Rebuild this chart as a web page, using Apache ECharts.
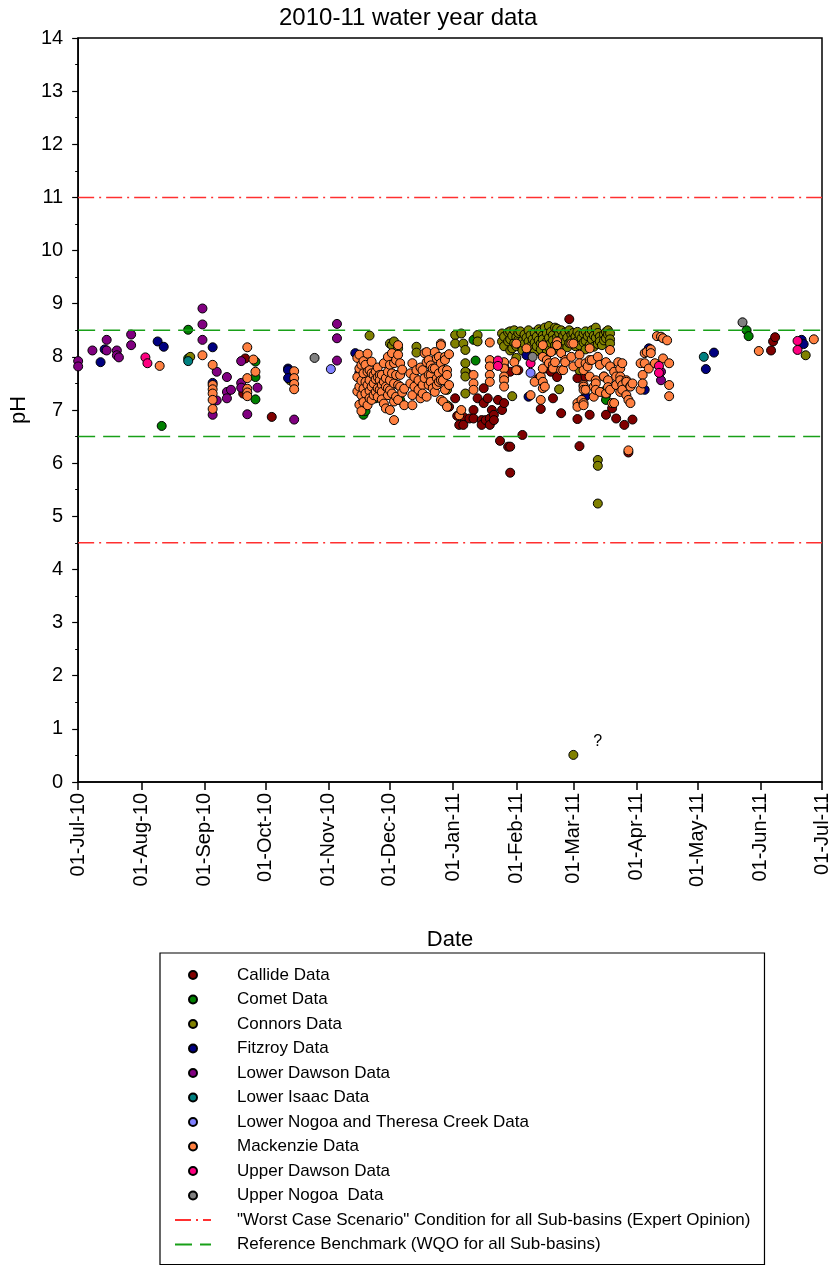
<!DOCTYPE html>
<html>
<head>
<meta charset="utf-8">
<script src="https://cdn.jsdelivr.net/npm/echarts@6/dist/echarts.min.js"></script>
<style>
  html, body { margin: 0; padding: 0; background: #fff; }
  #chart { width: 832px; height: 1266px; }
</style>
</head>
<body>
<div id="chart"></div>
<script>
// pH samples by sub-basin, 2010-11 water year: [sample date, pH]
const callide = [
  ['2010-09-20',7.31],['2010-09-21',7.97],['2010-10-04',6.87],
  ['2010-12-30',7.06],['2011-01-02',7.22],['2011-01-03',6.89],['2011-01-04',6.72],['2011-01-06',6.87],['2011-01-06',6.72],
  ['2011-01-08',7.69],['2011-01-09',6.84],['2011-01-11',7.00],['2011-01-11',6.84],['2011-01-13',7.22],['2011-01-15',6.81],
  ['2011-01-15',6.72],['2011-01-16',7.41],['2011-01-16',7.13],['2011-01-17',6.81],['2011-01-18',7.22],['2011-01-19',6.84],
  ['2011-01-19',6.72],['2011-01-20',7.00],['2011-01-21',6.91],['2011-01-21',6.81],['2011-01-23',7.19],['2011-01-24',6.42],
  ['2011-01-25',7.00],['2011-01-26',7.13],['2011-01-28',6.31],['2011-01-29',6.31],['2011-01-29',5.82],['2011-01-29',7.72],
  ['2011-02-02',7.75],['2011-02-04',6.53],['2011-02-12',7.60],['2011-02-13',7.02],['2011-02-15',7.78],['2011-02-18',7.72],
  ['2011-02-19',7.22],['2011-02-21',7.62],['2011-02-23',6.94],['2011-02-27',8.71],['2011-03-03',7.60],['2011-03-03',6.83],
  ['2011-03-04',6.32],['2011-03-07',7.62],['2011-03-09',6.91],['2011-03-17',6.91],['2011-03-20',7.03],['2011-03-22',6.84],
  ['2011-03-26',6.72],['2011-03-28',6.20],['2011-03-30',6.82],
  ['2011-06-06',8.12],['2011-06-07',8.29],['2011-06-08',8.37]
];
const comet = [
  ['2010-08-11',6.70],['2010-08-24',8.51],['2010-08-24',7.97],['2010-09-26',7.91],['2010-09-26',7.62],['2010-09-26',7.20],
  ['2010-11-17',7.10],['2010-11-18',6.91],['2010-11-18',7.03],['2010-11-18',7.19],['2010-11-19',6.98],['2010-11-24',7.22],
  ['2010-11-29',7.53],['2010-12-06',7.19],
  ['2011-01-11',8.32],['2011-01-12',7.93],['2011-02-08',8.25],
  ['2011-03-16',7.35],['2011-03-17',7.28],['2011-03-17',7.19],
  ['2011-05-25',8.50],['2011-05-26',8.39]
];
const connors = [
  ['2010-08-25',8.00],['2010-10-13',7.56],['2010-11-21',8.40],['2010-12-01',8.25],['2010-12-02',8.22],['2010-12-03',8.29],
  ['2010-12-05',8.16],['2010-12-14',8.19],['2010-12-14',8.08],['2010-12-29',7.09],['2010-12-29',7.38],
  ['2011-01-02',8.41],['2011-01-02',8.25],['2011-01-05',8.44],['2011-01-06',8.25],['2011-01-07',8.13],['2011-01-07',7.88],
  ['2011-01-07',7.72],['2011-01-07',7.63],['2011-01-07',7.31],['2011-01-13',8.41],['2011-01-13',8.29],['2011-01-25',8.44],
  ['2011-01-25',8.29],['2011-01-30',7.26],['2011-02-22',7.39],
  ['2011-01-26',8.38],['2011-01-26',8.20],['2011-01-28',8.29],['2011-01-28',8.46],['2011-01-29',8.48],['2011-01-29',8.33],
  ['2011-01-29',8.12],['2011-01-30',8.16],['2011-01-30',8.40],['2011-01-31',8.50],['2011-01-31',8.26],['2011-02-01',8.37],
  ['2011-02-01',8.20],['2011-02-01',7.98],['2011-02-02',8.32],['2011-02-02',8.45],['2011-02-03',8.48],['2011-02-03',8.22],
  ['2011-02-04',8.30],['2011-02-04',8.12],['2011-02-05',8.42],['2011-02-05',8.25],['2011-02-06',8.36],['2011-02-07',8.50],
  ['2011-02-07',8.29],['2011-02-07',8.15],['2011-02-08',8.41],['2011-02-08',8.20],['2011-02-09',8.33],['2011-02-10',8.46],
  ['2011-02-10',8.27],['2011-02-10',8.09],['2011-02-11',8.38],['2011-02-11',8.20],['2011-02-12',8.52],['2011-02-12',8.31],
  ['2011-02-13',8.48],['2011-02-13',8.25],['2011-02-13',8.14],['2011-02-14',8.40],['2011-02-14',8.33],['2011-02-15',8.55],
  ['2011-02-15',8.22],['2011-02-16',8.44],['2011-02-16',8.29],['2011-02-16',8.11],['2011-02-17',8.58],['2011-02-17',8.36],
  ['2011-02-17',8.18],['2011-02-18',8.47],['2011-02-18',8.26],['2011-02-19',8.41],['2011-02-19',8.31],['2011-02-19',8.12],
  ['2011-02-20',8.55],['2011-02-20',8.22],['2011-02-21',8.53],['2011-02-21',8.37],['2011-02-22',8.44],['2011-02-22',8.27],
  ['2011-02-22',8.16],['2011-02-23',8.50],['2011-02-23',8.33],['2011-02-24',8.40],['2011-02-24',8.21],['2011-02-25',8.46],
  ['2011-02-25',8.29],['2011-02-26',8.36],['2011-02-26',8.18],['2011-02-27',8.50],['2011-02-27',8.26],['2011-02-28',8.42],
  ['2011-02-28',8.31],['2011-03-01',8.45],['2011-03-01',8.24],['2011-03-02',8.38],['2011-03-02',8.20],['2011-03-03',8.47],
  ['2011-03-03',8.30],['2011-03-04',8.41],['2011-03-04',8.22],['2011-03-04',7.75],['2011-03-05',8.35],['2011-03-06',8.44],
  ['2011-03-06',8.27],['2011-03-07',8.48],['2011-03-07',8.30],['2011-03-07',8.14],['2011-03-08',8.39],['2011-03-09',8.44],
  ['2011-03-09',8.22],['2011-03-10',8.50],['2011-03-10',8.33],['2011-03-11',8.40],['2011-03-11',8.19],['2011-03-12',8.55],
  ['2011-03-12',8.36],['2011-03-13',8.45],['2011-03-13',8.24],['2011-03-14',8.38],['2011-03-14',8.29],['2011-03-15',8.22],
  ['2011-03-16',8.42],['2011-03-16',8.31],['2011-03-17',8.47],['2011-03-17',8.35],['2011-03-18',8.50],['2011-03-18',8.42],
  ['2011-03-19',8.44],['2011-03-19',8.33],['2011-03-19',8.25],
  ['2011-03-13',6.06],['2011-03-13',5.95],['2011-03-13',5.24],['2011-03-01',0.51],['2011-06-23',8.03]
];
const fitzroy = [
  ['2010-07-12',7.90],['2010-07-14',8.14],['2010-08-09',8.29],['2010-08-12',8.19],['2010-09-05',8.18],['2010-09-05',7.51],
  ['2010-10-12',7.78],['2010-10-12',7.75],['2010-10-12',7.60],['2010-11-14',8.07],['2010-11-16',7.70],
  ['2011-02-06',8.03],['2011-02-07',7.25],['2011-03-07',7.26],['2011-04-05',7.38],['2011-04-07',8.16],
  ['2011-05-05',7.77],['2011-05-09',8.08],['2011-06-21',8.32],['2011-06-22',8.24]
];
const lowerDawson = [
  ['2010-07-01',7.92],['2010-07-01',7.82],['2010-07-08',8.12],['2010-07-15',8.32],['2010-07-15',8.12],['2010-07-20',8.12],
  ['2010-07-20',8.03],['2010-07-21',7.99],['2010-07-27',8.42],['2010-07-27',8.22],['2010-08-31',8.91],['2010-08-31',8.61],
  ['2010-08-31',8.32],['2010-09-05',6.91],['2010-09-07',7.72],['2010-09-07',7.18],['2010-09-12',7.62],['2010-09-12',7.34],
  ['2010-09-12',7.22],['2010-09-14',7.38],['2010-09-19',7.92],['2010-09-19',7.51],['2010-09-19',7.42],['2010-09-22',6.92],
  ['2010-09-27',7.42],['2010-10-15',6.82],['2010-11-05',8.62],['2010-11-05',8.35],['2010-11-05',7.93],
  ['2011-01-26',7.82],['2011-04-13',7.72],['2011-04-13',7.56]
];
const lowerIsaac = [['2010-08-24',7.92],['2011-05-04',8.00]];
const lowerNogoaTheresa = [['2010-11-02',7.77],['2011-02-08',7.70]];
const mackenzie = [
  ['2010-08-10',7.83],['2010-08-31',8.03],
  ['2010-09-05',7.85],['2010-09-05',7.47],['2010-09-05',7.39],['2010-09-05',7.31],['2010-09-05',7.19],['2010-09-05',7.02],
  ['2010-09-22',8.18],['2010-09-22',7.60],['2010-09-22',7.40],['2010-09-22',7.33],['2010-09-22',7.26],['2010-09-25',7.95],
  ['2010-09-26',7.72],['2010-10-15',7.73],['2010-10-15',7.60],['2010-10-15',7.49],['2010-10-15',7.39],
  ['2010-11-15',7.98],['2010-11-15',7.62],['2010-11-15',7.35],
  ['2010-11-16',8.04],['2010-11-16',7.78],['2010-11-16',7.44],['2010-11-16',7.10],
  ['2010-11-17',7.85],['2010-11-17',7.55],['2010-11-17',7.28],['2010-11-17',6.98],
  ['2010-11-18',7.92],['2010-11-18',7.69],['2010-11-18',7.40],['2010-11-18',7.15],
  ['2010-11-19',7.85],['2010-11-19',7.53],['2010-11-19',7.31],
  ['2010-11-20',8.06],['2010-11-20',7.72],['2010-11-20',7.47],['2010-11-20',7.09],
  ['2010-11-21',7.75],['2010-11-21',7.56],['2010-11-21',7.36],['2010-11-21',7.22],
  ['2010-11-22',7.91],['2010-11-22',7.69],['2010-11-22',7.44],['2010-11-22',7.19],
  ['2010-11-23',7.66],['2010-11-23',7.50],['2010-11-23',7.28],
  ['2010-11-24',7.72],['2010-11-24',7.58],['2010-11-24',7.34],
  ['2010-11-25',7.80],['2010-11-25',7.62],['2010-11-25',7.41],['2010-11-25',7.25],
  ['2010-11-26',7.66],['2010-11-26',7.56],['2010-11-26',7.38],
  ['2010-11-27',7.66],['2010-11-27',7.47],['2010-11-27',7.34],['2010-11-27',7.20],
  ['2010-11-28',7.88],['2010-11-28',7.53],['2010-11-28',7.12],
  ['2010-11-29',7.60],['2010-11-29',7.44],['2010-11-29',7.03],
  ['2010-11-30',8.00],['2010-11-30',7.72],['2010-11-30',7.41],['2010-11-30',7.28],
  ['2010-12-01',7.85],['2010-12-01',7.56],['2010-12-01',7.37],['2010-12-01',7.00],
  ['2010-12-02',8.07],['2010-12-02',7.69],['2010-12-02',7.31],
  ['2010-12-03',7.88],['2010-12-03',7.50],['2010-12-03',7.16],['2010-12-03',6.81],
  ['2010-12-04',7.94],['2010-12-04',7.66],['2010-12-04',7.25],
  ['2010-12-05',8.22],['2010-12-05',8.04],['2010-12-05',7.47],['2010-12-05',7.19],
  ['2010-12-06',7.88],['2010-12-06',7.66],['2010-12-06',7.44],
  ['2010-12-07',7.76],['2010-12-07',7.33],['2010-12-08',7.40],['2010-12-08',7.09],
  ['2010-12-11',7.69],['2010-12-11',7.50],['2010-12-12',7.88],['2010-12-12',7.28],['2010-12-12',7.09],
  ['2010-12-13',7.62],['2010-12-13',7.44],['2010-12-14',7.75],['2010-12-15',7.56],['2010-12-15',7.38],
  ['2010-12-16',7.80],['2010-12-16',7.22],['2010-12-17',7.75],['2010-12-17',7.47],['2010-12-17',7.31],
  ['2010-12-18',8.07],['2010-12-18',7.60],['2010-12-19',8.09],['2010-12-19',7.90],['2010-12-19',7.25],
  ['2010-12-20',7.94],['2010-12-20',7.66],['2010-12-20',7.47],['2010-12-21',7.84],['2010-12-21',7.66],['2010-12-21',7.53],
  ['2010-12-22',7.78],['2010-12-22',7.41],['2010-12-23',8.09],['2010-12-23',7.78],['2010-12-23',7.34],
  ['2010-12-24',7.97],['2010-12-24',7.60],['2010-12-24',7.47],['2010-12-25',8.00],['2010-12-25',7.69],['2010-12-25',7.53],
  ['2010-12-26',8.25],['2010-12-26',8.22],['2010-12-26',7.88],['2010-12-26',7.56],['2010-12-26',7.19],
  ['2010-12-27',7.75],['2010-12-27',7.56],['2010-12-27',7.16],['2010-12-28',8.00],['2010-12-28',7.94],['2010-12-28',7.38],
  ['2010-12-29',7.75],['2010-12-29',7.66],['2010-12-29',7.06],['2010-12-30',8.05],['2010-12-30',7.47],
  ['2011-01-04',6.90],['2011-01-05',7.00],
  ['2011-01-11',7.66],['2011-01-11',7.50],['2011-01-11',7.38],
  ['2011-01-19',8.27],['2011-01-19',7.94],['2011-01-19',7.82],['2011-01-19',7.66],['2011-01-19',7.53],
  ['2011-01-26',7.90],['2011-01-26',7.78],['2011-01-26',7.63],['2011-01-26',7.56],['2011-01-26',7.44],
  ['2011-01-31',7.90],['2011-02-01',8.25],['2011-02-01',7.75],['2011-02-06',8.16],['2011-02-08',7.28],
  ['2011-02-10',7.53],['2011-02-13',7.63],['2011-02-13',7.19],['2011-02-14',8.22],['2011-02-14',8.00],['2011-02-14',7.78],
  ['2011-02-14',7.53],['2011-02-14',7.41],['2011-02-15',7.44],['2011-02-16',7.94],['2011-02-17',7.88],['2011-02-18',8.09],
  ['2011-02-19',7.85],['2011-02-19',7.78],['2011-02-20',7.90],['2011-02-21',8.29],['2011-02-21',8.22],['2011-02-23',8.07],
  ['2011-02-23',7.75],['2011-02-24',7.75],['2011-02-25',7.94],['2011-02-25',7.90],['2011-02-28',8.25],['2011-02-28',8.00],
  ['2011-03-01',8.25],['2011-03-01',7.82],['2011-03-03',7.13],['2011-03-03',7.06],['2011-03-04',8.04],['2011-03-04',7.88],
  ['2011-03-05',7.19],['2011-03-06',7.75],['2011-03-06',7.47],['2011-03-06',7.44],['2011-03-06',7.38],['2011-03-06',7.13],
  ['2011-03-06',7.09],['2011-03-07',7.88],['2011-03-07',7.38],['2011-03-08',7.82],['2011-03-09',8.16],['2011-03-09',7.94],
  ['2011-03-09',7.63],['2011-03-10',7.94],['2011-03-11',7.44],['2011-03-11',7.25],['2011-03-12',7.56],['2011-03-12',7.50],
  ['2011-03-12',7.38],['2011-03-13',8.00],['2011-03-14',7.85],['2011-03-14',7.34],['2011-03-16',7.63],['2011-03-16',7.63],
  ['2011-03-17',7.90],['2011-03-17',7.31],['2011-03-18',7.56],['2011-03-18',7.43],['2011-03-19',8.13],['2011-03-19',7.82],
  ['2011-03-19',7.38],['2011-03-20',7.13],['2011-03-21',7.72],['2011-03-21',7.13],['2011-03-22',7.63],['2011-03-22',7.47],
  ['2011-03-23',7.90],['2011-03-24',7.78],['2011-03-24',7.63],['2011-03-24',7.56],['2011-03-24',7.34],['2011-03-25',7.88],
  ['2011-03-25',7.47],['2011-03-25',7.38],['2011-03-27',7.56],['2011-03-27',7.53],['2011-03-27',7.28],['2011-03-28',7.19],
  ['2011-03-28',6.24],['2011-03-29',7.45],['2011-03-29',7.44],['2011-03-29',7.13],['2011-03-30',7.50],
  ['2011-04-03',7.88],['2011-04-03',7.38],['2011-04-04',7.66],['2011-04-04',7.50],['2011-04-05',8.07],['2011-04-05',7.88],
  ['2011-04-06',8.09],['2011-04-07',7.78],['2011-04-08',8.14],['2011-04-08',8.07],['2011-04-10',7.88],['2011-04-11',8.39],
  ['2011-04-13',8.38],['2011-04-14',8.35],['2011-04-14',7.97],['2011-04-16',8.31],['2011-04-17',7.88],['2011-04-17',7.47],
  ['2011-04-17',7.26],
  ['2011-05-31',8.11],['2011-06-27',8.33]
];
const upperDawson = [
  ['2010-08-03',7.99],['2010-08-04',7.88],['2011-01-23',7.93],['2011-01-23',7.83],['2011-02-08',7.88],
  ['2011-04-12',7.83],['2011-04-12',7.70],['2011-06-19',8.30],['2011-06-19',8.13]
];
const upperNogoa = [['2010-10-25',7.98],['2011-02-09',8.00],['2011-05-23',8.65]];

// Guideline levels
const worstCaseLevels = [11, 4.5];
const benchmarkLevels = [8.5, 6.5];

// Axis ticks
const monthTicks = ['2010-07-01','2010-08-01','2010-09-01','2010-10-01','2010-11-01','2010-12-01',
  '2011-01-01','2011-02-01','2011-03-01','2011-04-01','2011-05-01','2011-06-01','2011-07-01'];
const monthNames = ['Jan','Feb','Mar','Apr','May','Jun','Jul','Aug','Sep','Oct','Nov','Dec'];

// Sample flagged with a question mark
const queried = ['2011-03-01', 0.51];

const basins = [
  { name: 'Callide Data', data: callide, color: '#800000' },
  { name: 'Comet Data', data: comet, color: '#008000' },
  { name: 'Connors Data', data: connors, color: '#808000' },
  { name: 'Fitzroy Data', data: fitzroy, color: '#000080' },
  { name: 'Lower Dawson Data', data: lowerDawson, color: '#800080' },
  { name: 'Lower Isaac Data', data: lowerIsaac, color: '#008080' },
  { name: 'Lower Nogoa and Theresa Creek Data', data: lowerNogoaTheresa, color: '#8080ff' },
  { name: 'Mackenzie Data', data: mackenzie, color: '#ff8040' },
  { name: 'Upper Dawson Data', data: upperDawson, color: '#ff0080' },
  { name: 'Upper Nogoa  Data', data: upperNogoa, color: '#808080' }
];
const WORST = '"Worst Case Scenario" Condition for all Sub-basins (Expert Opinion)';
const BENCH = 'Reference Benchmark (WQO for all Sub-basins)';

function ts(s) {
  const p = s.split('-').map(Number);
  return Date.UTC(p[0], p[1] - 1, p[2]);
}
function fmtDate(v) {
  const d = new Date(v);
  return String(d.getUTCDate()).padStart(2, '0') + '-' + monthNames[d.getUTCMonth()] + '-' +
    String(d.getUTCFullYear()).slice(2);
}

const xMin = ts(monthTicks[0]);
const xMax = ts(monthTicks[monthTicks.length - 1]);
const tickValues = monthTicks.map(ts);
const FONT = '"Liberation Sans", Arial, sans-serif';
const RED = '#ff3030';
const GREEN = '#18a018';

const series = [];
worstCaseLevels.forEach(v => series.push({
  name: WORST, type: 'line', symbol: 'none', silent: true,
  data: [[xMin, v], [xMax, v]],
  lineStyle: { color: RED, width: 1.5, type: [16, 5, 2, 5] },
  itemStyle: { color: RED, opacity: 0 }
}));
benchmarkLevels.forEach(v => series.push({
  name: BENCH, type: 'line', symbol: 'none', silent: true,
  data: [[xMin, v], [xMax, v]],
  lineStyle: { color: GREEN, width: 1.5, type: [17, 8] },
  itemStyle: { color: GREEN, opacity: 0 }
}));
basins.forEach(b => series.push({
  name: b.name, type: 'scatter', symbol: 'circle', symbolSize: 9,
  itemStyle: { color: b.color, borderColor: '#000', borderWidth: 1, opacity: 1 },
  data: b.data.map(p => {
    const item = { value: [ts(p[0]), p[1]] };
    if (p[0] === queried[0] && p[1] === queried[1]) {
      item.label = { show: true, formatter: '?', position: 'right', offset: [10, -13],
        fontSize: 16, color: '#000', fontFamily: FONT };
    }
    return item;
  })
}));

const chart = echarts.init(document.getElementById('chart'), null, { renderer: 'canvas' });
chart.setOption({
  animation: false,
  backgroundColor: '#fff',
  title: {
    text: '2010-11 water year data', left: 274, top: 1,
    textStyle: { fontFamily: FONT, fontSize: 24, fontWeight: 'normal', color: '#000' }
  },
  grid: { left: 78, right: 10, top: 38, bottom: 484, show: true, borderColor: '#000', borderWidth: 1.5 },
  xAxis: {
    type: 'value', min: xMin, max: xMax,
    name: 'Date', nameLocation: 'middle', nameGap: 147,
    nameTextStyle: { fontFamily: FONT, fontSize: 22, color: '#000' },
    axisLine: { lineStyle: { color: '#000', width: 1.5 } },
    axisTick: { show: true, length: 8, customValues: tickValues, lineStyle: { color: '#000', width: 1.5 } },
    axisLabel: { customValues: tickValues, rotate: 90, margin: 11, formatter: fmtDate,
      fontFamily: FONT, fontSize: 20, color: '#000' },
    splitLine: { show: false }
  },
  yAxis: {
    type: 'value', min: 0, max: 14, interval: 1,
    name: 'pH', nameLocation: 'middle', nameGap: 42, nameRotate: 90,
    nameTextStyle: { fontFamily: FONT, fontSize: 22, color: '#000' },
    axisLine: { show: true, lineStyle: { color: '#000', width: 1.5 } },
    axisTick: { show: true, length: 6, lineStyle: { color: '#000', width: 1.2 } },
    minorTick: { show: true, splitNumber: 2, length: 3, lineStyle: { color: '#000', width: 1 } },
    axisLabel: { margin: 15, fontFamily: FONT, fontSize: 20, color: '#000' },
    splitLine: { show: false }
  },
  legend: {
    orient: 'vertical', left: 160, top: 953,
    padding: [12, 14, 10, 14], itemGap: 4.5,
    itemWidth: 36, itemHeight: 8,
    borderColor: '#000', borderWidth: 1.2,
    selectedMode: false,
    textStyle: { fontFamily: FONT, fontSize: 17, color: '#000', lineHeight: 20, padding: [0, 0, 0, 21] },
    data: basins.map(b => ({ name: b.name, icon: 'circle' })).concat([
      { name: WORST, itemStyle: { opacity: 0 } },
      { name: BENCH, itemStyle: { opacity: 0 } }
    ])
  },
  series: series
});
</script>
</body>
</html>
